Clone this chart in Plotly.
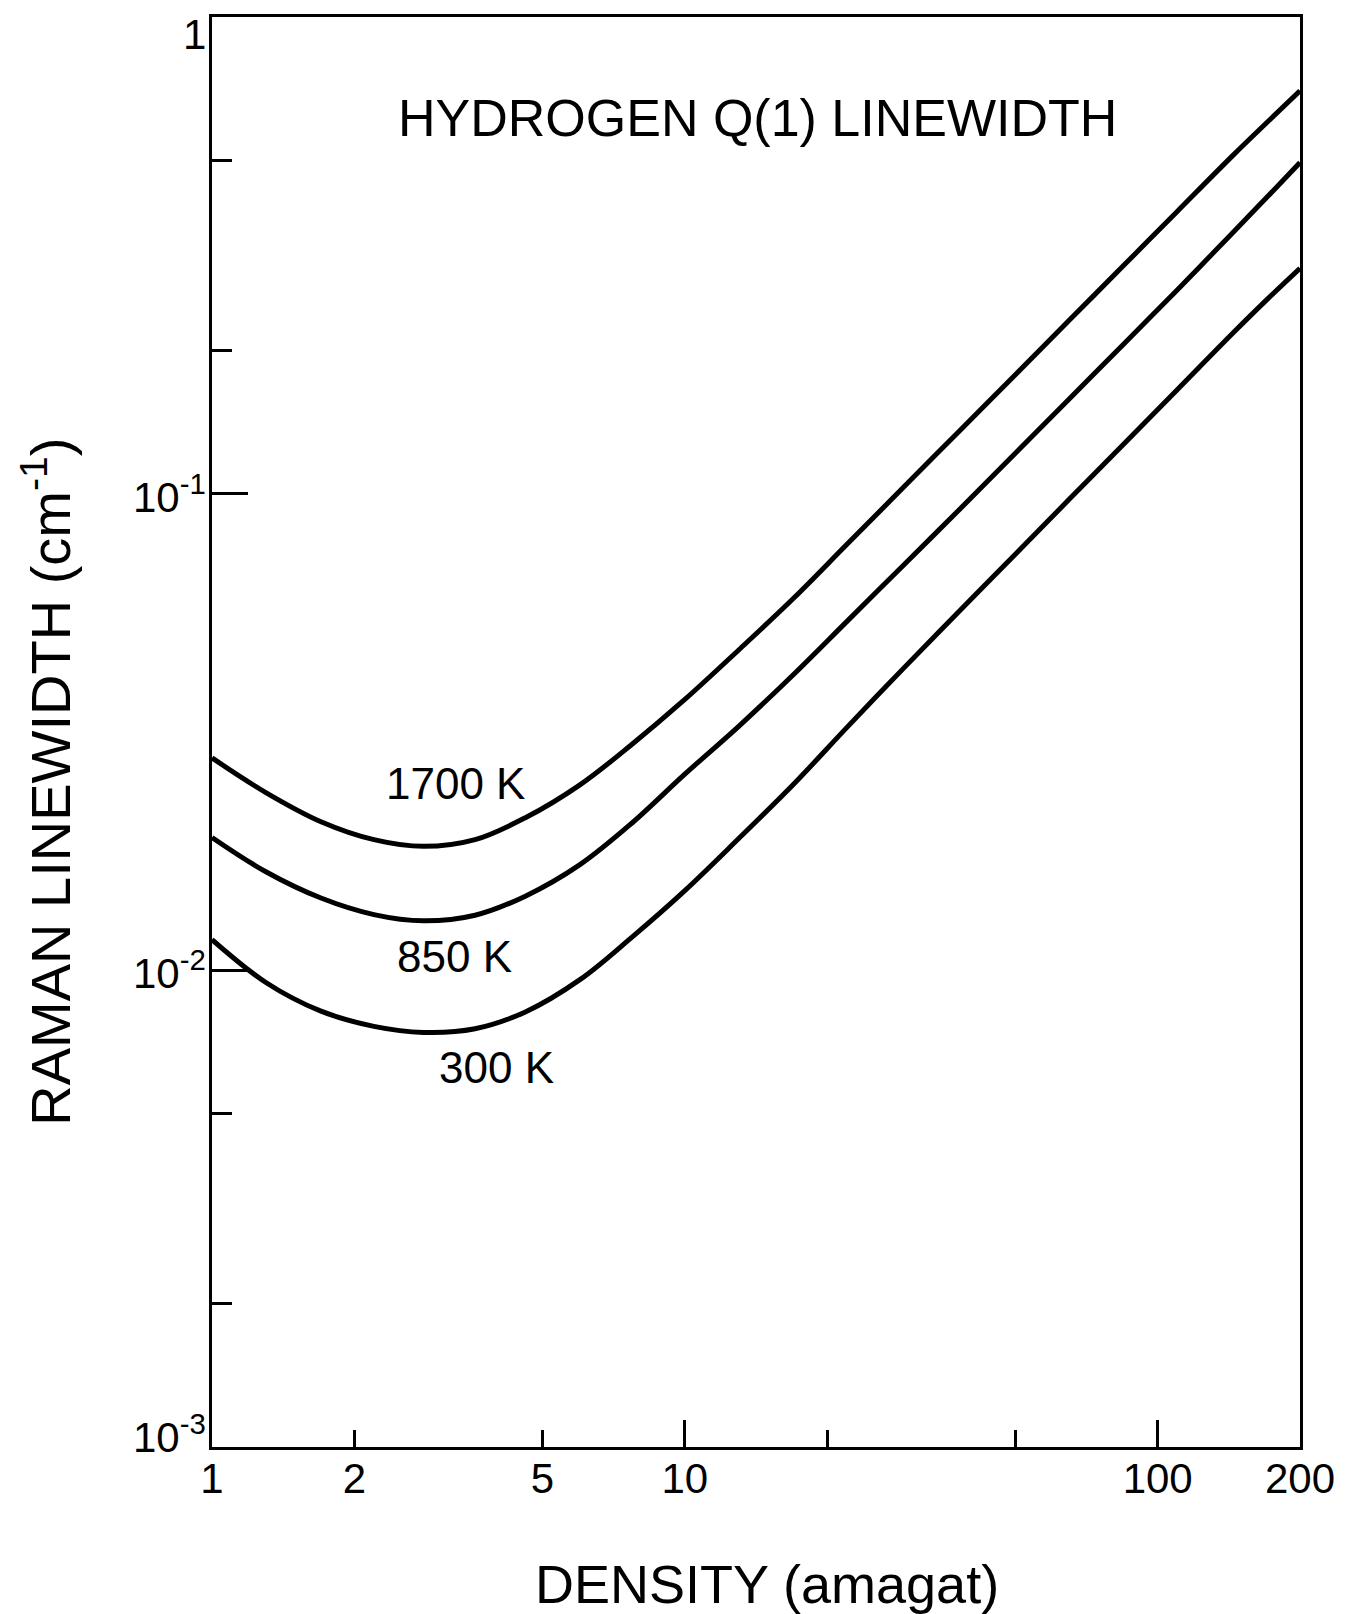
import math
import plotly.graph_objects as go

# Data (density in amagat, linewidth in cm^-1)
density = [1, 1.3, 1.7, 2.2, 2.8, 3.6, 4.6, 6, 7.7, 10, 13, 17, 22, 29, 38,
           50, 65, 85, 110, 145, 170, 200]
width_1700K = [0.0279, 0.0236, 0.0205, 0.0188, 0.0182, 0.0188, 0.0209, 0.0245,
               0.0297, 0.0370, 0.0470, 0.0604, 0.0782, 0.1031, 0.1351,
               0.1777, 0.231, 0.302, 0.391, 0.515, 0.600, 0.70]
width_850K = [0.0190, 0.0161, 0.01418, 0.01309, 0.0127, 0.01305, 0.01431, 0.01666,
              0.0203, 0.0258, 0.0325, 0.0418, 0.0539, 0.0708, 0.0924,
              0.1216, 0.158, 0.2066, 0.2675, 0.355, 0.418, 0.495]
width_300K = [0.0116, 0.00943, 0.00821, 0.00763, 0.00741, 0.00754, 0.00818, 0.00956,
              0.0117, 0.0147, 0.0189, 0.0246, 0.0323, 0.0430, 0.0566,
              0.0746, 0.0973, 0.1274, 0.1652, 0.2183, 0.255, 0.297]

series_names = ["1700 K", "850 K", "300 K"]
series_values = [width_1700K, width_850K, width_300K]
label_x = [3.28, 3.26, 4.0]
label_y = [0.0247, 0.01067, 0.00624]

x_tick_vals = [1, 2, 5, 10, 100, 200]
x_tick_text = ["1", "2", "5", "10", "100", "200"]
x_long_ticks = [10, 100]
x_short_ticks = [2, 5, 20, 50]

y_tick_vals = [0.001, 0.01, 0.1, 1]
y_tick_text = ["10<sup>-3</sup>", "10<sup>-2</sup>", "10<sup>-1</sup>", "1"]
y_tick_shift = [13, 0, 0, -17]
y_minor_ticks = [0.002, 0.005, 0.2, 0.5]

FONT = "Liberation Sans, Arial, sans-serif"
X_RANGE = [0, math.log10(200)]

fig = go.Figure()
for name, vals in zip(series_names, series_values):
    fig.add_trace(go.Scatter(
        x=density, y=vals, mode="lines", name=name,
        line=dict(color="black", width=5, shape="spline", smoothing=1.0),
        showlegend=False, hoverinfo="x+y"))

# invisible trace to carry the overlay axis for the long x ticks
fig.add_trace(go.Scatter(x=[1, 200], y=[0.001, 0.001], xaxis="x2", mode="lines",
                         line=dict(width=0), showlegend=False, hoverinfo="skip"))

for name, lx, ly in zip(series_names, label_x, label_y):
    fig.add_annotation(x=math.log10(lx), y=math.log10(ly), xref="x", yref="y",
                       text=name, showarrow=False,
                       font=dict(family=FONT, size=44, color="black"),
                       xanchor="center", yanchor="middle")

# y tick labels placed beside the axis
for v, t, s in zip(y_tick_vals, y_tick_text, y_tick_shift):
    fig.add_annotation(x=-0.004, y=math.log10(v), xref="paper", yref="y",
                       text=t, showarrow=False, yshift=s,
                       font=dict(family=FONT, size=42, color="black"),
                       xanchor="right", yanchor="middle")

fig.update_layout(
    xaxis=dict(
        type="log", range=X_RANGE,
        tickvals=x_tick_vals, ticktext=x_tick_text,
        ticks="", showgrid=False, zeroline=False,
        showline=True, linecolor="black", linewidth=3, mirror=True,
        tickfont=dict(family=FONT, size=42, color="black"),
        ticklabelstandoff=-7,
        minor=dict(tickvals=x_short_ticks, ticks="inside", ticklen=17,
                   tickwidth=3, tickcolor="black", showgrid=False),
    ),
    xaxis2=dict(
        type="log", range=X_RANGE, overlaying="x", anchor="y", side="bottom",
        tickvals=x_long_ticks, ticks="inside", ticklen=27, tickwidth=3,
        tickcolor="black", showticklabels=False, showgrid=False,
        zeroline=False, showline=False,
    ),
    yaxis=dict(
        type="log", range=[-3, 0],
        tickvals=y_tick_vals, showticklabels=False,
        ticks="inside", ticklen=36, tickwidth=3, tickcolor="black",
        showgrid=False, zeroline=False,
        showline=True, linecolor="black", linewidth=3, mirror=True,
        minor=dict(tickvals=y_minor_ticks, ticks="inside", ticklen=20,
                   tickwidth=3, tickcolor="black", showgrid=False),
    ),
)

# Title inside plot
fig.add_annotation(x=0.501, y=0.9295, xref="paper", yref="paper",
                   text="HYDROGEN Q(1) LINEWIDTH", showarrow=False,
                   font=dict(family=FONT, size=52, color="black"),
                   xanchor="center", yanchor="middle")
# Axis titles
fig.add_annotation(x=0.510, y=-0.0958, xref="paper", yref="paper",
                   text="DENSITY (amagat)", showarrow=False,
                   font=dict(family=FONT, size=54, color="black"),
                   xanchor="center", yanchor="middle")
fig.add_annotation(x=-0.152, y=0.465, xref="paper", yref="paper",
                   text="RAMAN LINEWIDTH (cm<sup>-1</sup>)", showarrow=False,
                   textangle=-90,
                   font=dict(family=FONT, size=56, color="black"),
                   xanchor="center", yanchor="middle")

fig.update_layout(
    width=1355, height=1614, autosize=False,
    margin=dict(l=212, r=55, t=17, b=167),
    paper_bgcolor="white", plot_bgcolor="white",
    font=dict(family=FONT, color="black"),
)

fig.write_html("out.html")
